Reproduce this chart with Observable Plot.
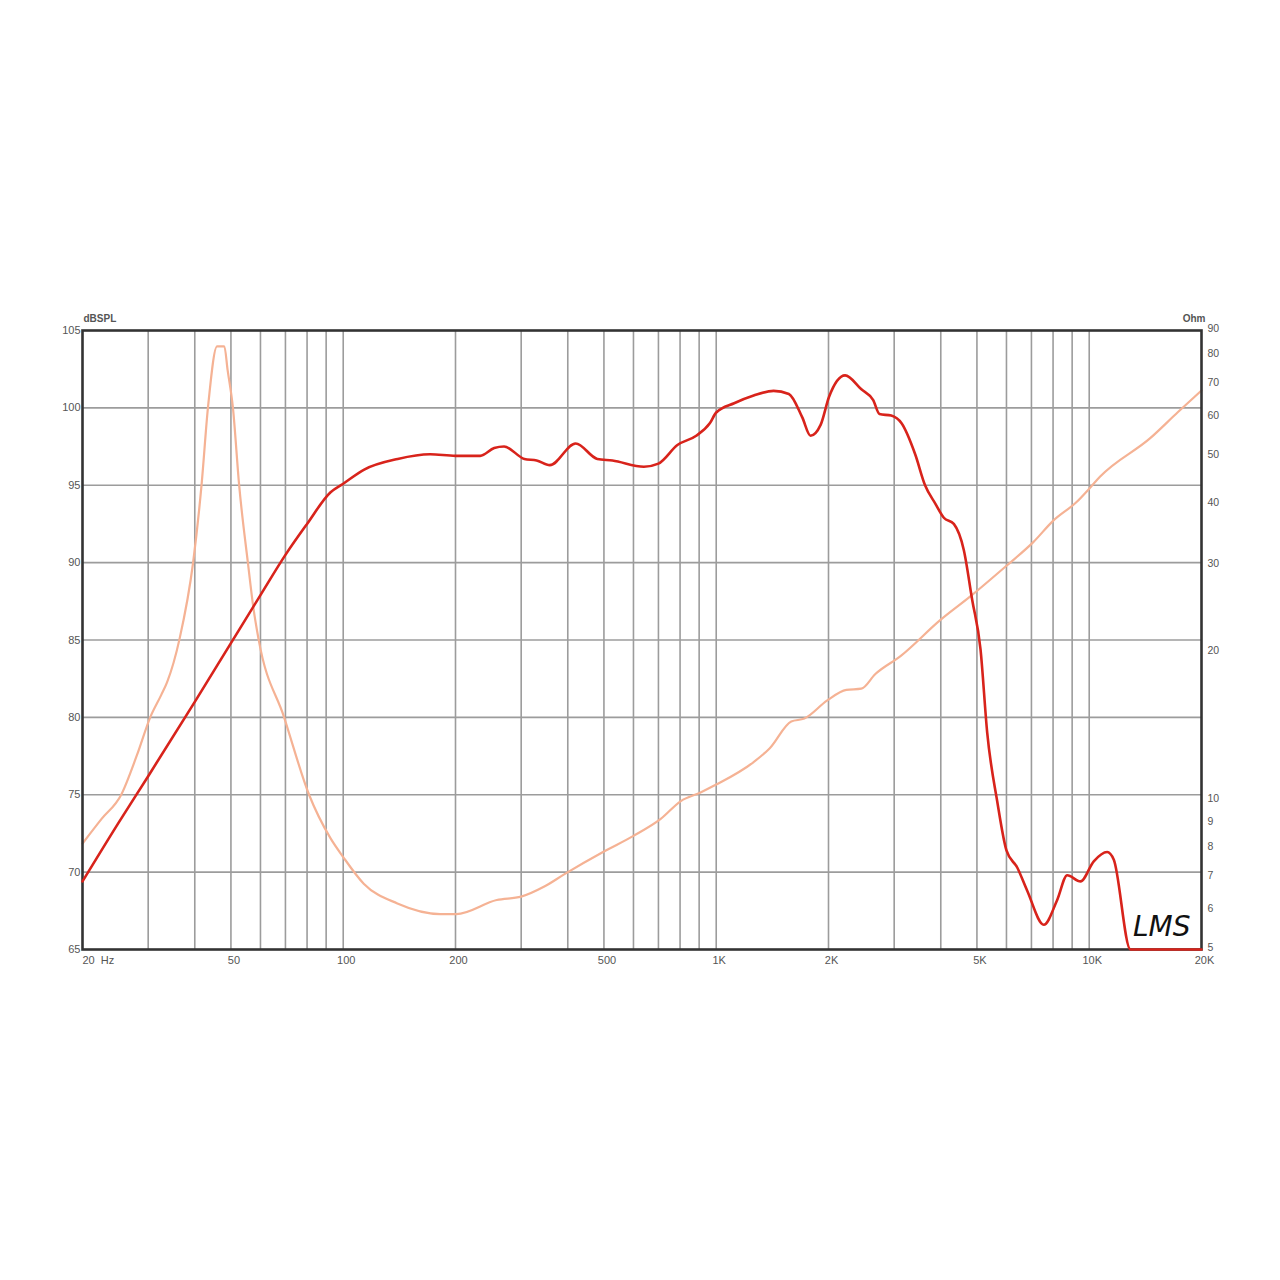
<!DOCTYPE html>
<html>
<head>
<meta charset="utf-8">
<script src="https://cdn.jsdelivr.net/npm/d3@7"></script>
<script src="https://cdn.jsdelivr.net/npm/@observablehq/plot@0.6"></script>
<style>
  html, body { margin: 0; padding: 0; background: #fff; }
  #chart svg { display: block; }
</style>
</head>
<body>
<div id="chart"></div>
<script>
// SPL response (dB SPL) — frequency in Hz
const splFreq = [20, 25, 30, 40, 50, 60, 70, 80, 92.5, 100, 113.5, 140, 171, 200, 233, 254, 270, 306, 330, 358, 420, 480, 527, 640, 700, 787, 884, 961, 1000, 1117, 1260, 1425, 1566, 1700, 1790, 1905, 2006, 2216, 2450, 2636, 2740, 2945, 3140, 3415, 3630, 3870, 4076, 4335, 4612, 4855, 5112, 5328, 5665, 6000, 6412, 6820, 7555, 8206, 8730, 9475, 10285, 11170, 11640, 12900, 20000];
const splDb = [69.4, 73.2, 76.2, 81.0, 84.8, 87.9, 90.5, 92.5, 94.55, 95.1, 96.0, 96.7, 97.0, 96.9, 96.9, 97.4, 97.5, 96.7, 96.6, 96.3, 97.7, 96.7, 96.6, 96.2, 96.4, 97.6, 98.2, 99.0, 99.7, 100.3, 100.8, 101.1, 100.9, 99.4, 98.2, 98.9, 100.7, 102.1, 101.2, 100.5, 99.6, 99.5, 99.0, 97.0, 95.0, 93.8, 92.9, 92.5, 90.8, 87.6, 84.4, 79.0, 74.6, 71.4, 70.3, 68.8, 66.6, 68.2, 69.8, 69.4, 70.7, 71.3, 70.8, 65, 65];

// Impedance (Ohm) — frequency in Hz
const zFreq = [20, 22.5, 25.4, 28, 30.4, 32.5, 33.7, 36.4, 39.6, 41.7, 43.4, 45.9, 48.0, 49.0, 50.6, 52.6, 55.5, 57.5, 59.3, 69.4, 81, 92.5, 100, 113.5, 139.7, 182, 201, 258, 300, 345, 391, 500, 600, 710, 804, 905, 1000, 1260, 1392, 1589, 1723, 1985, 2233, 2449, 2671, 3126, 3992, 4800, 6000, 7080, 8000, 9280, 10000, 10700, 14600, 17300, 20000];
const zOhm = [8.2, 9.2, 10.3, 12.4, 14.8, 16.4, 17.4, 21.3, 30.5, 43.7, 62.9, 83.6, 83.6, 74.7, 62.9, 43.7, 30.5, 24.5, 21.3, 14.8, 10.3, 8.4, 7.7, 6.8, 6.2, 5.9, 5.9, 6.3, 6.4, 6.7, 7.1, 7.9, 8.5, 9.2, 10.0, 10.4, 10.8, 12.0, 12.8, 14.5, 14.7, 16.0, 16.8, 16.9, 18.1, 19.7, 23.3, 26.0, 30.0, 33.5, 37.0, 40.5, 43.0, 45.5, 54.5, 61.5, 68.0];

// Axis ticks & labels
const dbTicks = [65, 70, 75, 80, 85, 90, 95, 100, 105];
const dbGrid = [70, 75, 80, 85, 90, 95, 100];
const ohmTicks = [5, 6, 7, 8, 9, 10, 20, 30, 40, 50, 60, 70, 80, 90];
const freqTicks = [50, 100, 200, 500, 1000, 2000, 5000, 10000, 20000];
const freqLabels = ["50", "100", "200", "500", "1K", "2K", "5K", "10K", "20K"];
const freqGrid = [30, 40, 50, 60, 70, 80, 90, 100, 200, 300, 400, 500, 600, 700, 800, 900, 1000, 2000, 3000, 4000, 5000, 6000, 7000, 8000, 9000, 10000];

// Impedance is drawn on a log scale 5–90 Ohm sharing the plot height with 65–105 dB
const DB_MIN = 65, DB_MAX = 105, OHM_MIN = 5, OHM_MAX = 90;
const ohmToDb = o => DB_MIN + (DB_MAX - DB_MIN) * Math.log(o / OHM_MIN) / Math.log(OHM_MAX / OHM_MIN);

const splData = splFreq.map((f, i) => ({f, v: splDb[i]}));
const impData = zFreq.map((f, i) => ({f, v: ohmToDb(zOhm[i])}));

const font = "'Liberation Sans', Arial, Helvetica, sans-serif";
const labelColor = "#555";

const chart = Plot.plot({
  width: 1280,
  height: 1280,
  marginLeft: 82,
  marginRight: 79,
  marginTop: 330,
  marginBottom: 331,
  style: {fontFamily: font, background: "#fff", color: labelColor},
  x: {type: "log", domain: [20, 20000], axis: null},
  y: {domain: [DB_MIN, DB_MAX]},
  marks: [
    Plot.ruleX(freqGrid, {stroke: "#9c9c9c", strokeWidth: 1.6}),
    Plot.ruleY(dbGrid, {stroke: "#9c9c9c", strokeWidth: 1.6}),
    Plot.line(impData, {x: "f", y: "v", stroke: "#f5b294", strokeWidth: 2.2, curve: "monotone-x"}),
    Plot.frame({stroke: "#333", strokeWidth: 2.6}),
    Plot.line(splData, {x: "f", y: "v", stroke: "#d8231b", strokeWidth: 2.6, curve: "monotone-x"}),
    Plot.axisY({ticks: dbTicks, anchor: "left", tickSize: 0, tickPadding: 2, fontSize: 11, fill: labelColor, label: null}),
    Plot.axisY({
      ticks: ohmTicks.map(ohmToDb), anchor: "right", tickSize: 0, tickPadding: 6, fontSize: 10.5, fill: labelColor, label: null, dy: -2,
      tickFormat: d => { const o = ohmTicks.find(t => Math.abs(ohmToDb(t) - d) < 1e-6); return o == null ? "" : String(o); }
    }),
    Plot.text(freqTicks, {x: d => d, frameAnchor: "bottom", text: (d, i) => freqLabels[i], dy: 14, dx: 3, fontSize: 11, fill: labelColor}),
    Plot.text([20], {x: d => d, frameAnchor: "bottom", text: () => "20\u00a0\u00a0Hz", textAnchor: "start", dy: 14, fontSize: 11, fill: labelColor}),
    Plot.text(["dBSPL"], {frameAnchor: "top-left", textAnchor: "start", dy: -16, dx: 1, fontSize: 10, fontWeight: "bold", fill: labelColor}),
    Plot.text(["Ohm"], {frameAnchor: "top-right", textAnchor: "end", dy: -16, dx: 4, fontSize: 10, fontWeight: "bold", fill: labelColor}),
    Plot.text(["LMS"], {frameAnchor: "bottom-right", dx: -11, dy: -14, fontSize: 28, fontStyle: "italic", fontFamily: "'DejaVu Sans', sans-serif", fontWeight: 200, fill: "#111"})
  ]
});

document.getElementById("chart").appendChild(chart);
</script>
</body>
</html>
